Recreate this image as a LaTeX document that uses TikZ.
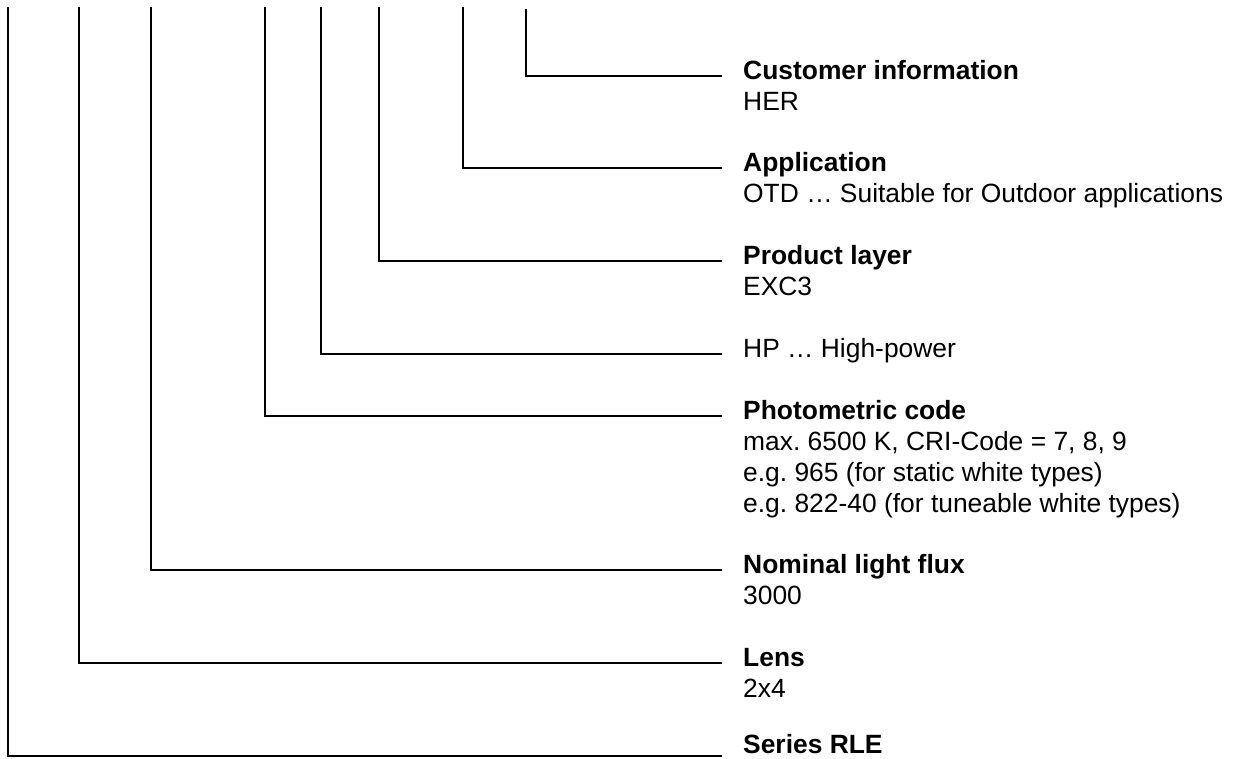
\documentclass[tikz,border=0pt]{standalone}
\usepackage{fontspec}
\setmainfont{Liberation Sans}
\frenchspacing
\begin{document}
\begin{tikzpicture}[x=1pt,y=-1pt,
  lead/.style={line width=1.4pt},
  ttl/.style={anchor=base west, inner sep=0pt, font=\fontsize{26.4}{31}\selectfont\bfseries},
  sub/.style={anchor=base west, inner sep=0pt, font=\fontsize{26.4}{31}\selectfont}]
\useasboundingbox (0,0) rectangle (1242,758);
% tops of the leaders
\coordinate (v1) at (526,9);
\coordinate (v2) at (463,7);
\coordinate (v3) at (379,7);
\coordinate (v4) at (321,7);
\coordinate (v5) at (265,7);
\coordinate (v6) at (151,7);
\coordinate (v7) at (79,7);
\coordinate (v8) at (8,7);
% ends of the leaders
\coordinate (e1) at (722,76);
\coordinate (e2) at (722,168);
\coordinate (e3) at (722,261);
\coordinate (e4) at (722,354);
\coordinate (e5) at (722,416);
\coordinate (e6) at (722,570);
\coordinate (e7) at (722,663);
\coordinate (e8) at (722,756);
% texts
\node[ttl] (t1) at (743,79) {Customer information};
\node[sub] (s1) at (743,110) {HER};
\node[ttl] (t2) at (743,171) {Application};
\node[sub] (s2) at (743,202) {OTD … Suitable for Outdoor applications};
\node[ttl] (t3) at (743,264) {Product layer};
\node[sub] (s3) at (743,295) {EXC3};
\node[sub] (t4) at (743,357) {HP … High-power};
\node[ttl] (t5) at (743,419) {Photometric code};
\node[sub] (s5a) at (743,450) {max. 6500 K, CRI-Code = 7, 8, 9};
\node[sub] (s5b) at (743,481) {e.g. 965 (for static white types)};
\node[sub] (s5c) at (743,512) {e.g. 822-40 (for tuneable white types)};
\node[ttl] (t6) at (743,573) {Nominal light flux};
\node[sub] (s6) at (743,604) {3000};
\node[ttl] (t7) at (743,666) {Lens};
\node[sub] (s7) at (743,697) {2x4};
\node[ttl] (t8) at (743,753.5) {Series RLE};
% leaders
\foreach \i in {1,...,8}{
  \draw[lead] (v\i) |- (e\i);
}
\end{tikzpicture}
\end{document}
